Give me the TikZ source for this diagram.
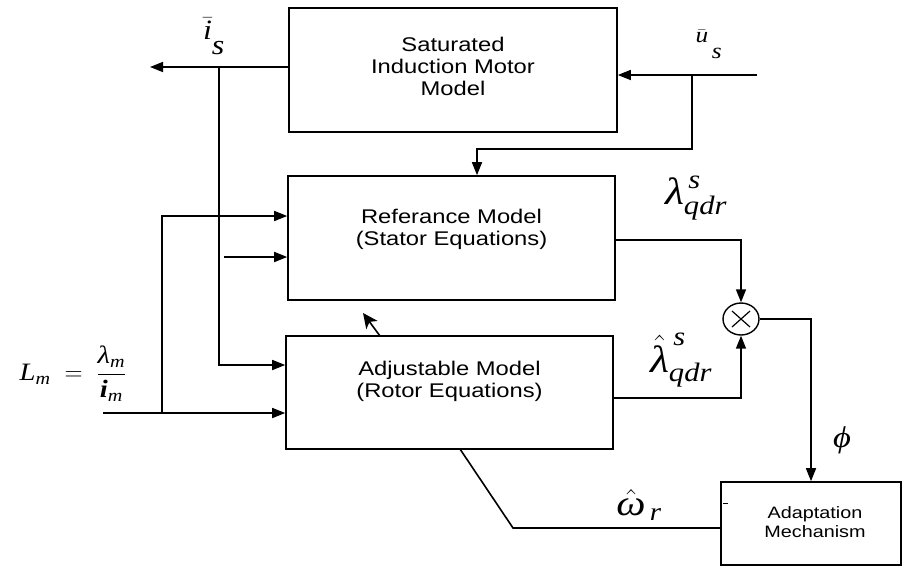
\documentclass[tikz,border=0pt]{standalone}
\usepackage{fix-cm}
\usepackage{amsmath}
\usepackage{fontspec}
\setmainfont{Liberation Sans}[FakeStretch=1.2]
\newfontfamily\eqfont{Liberation Serif}[FakeStretch=1.15]
\newcommand{\eqv}[1]{\text{\eqfont\itshape #1}}
\usetikzlibrary{arrows.meta,shapes.geometric}

\tikzset{
  block/.style={draw, rectangle, line width=1.6pt, inner sep=0pt},
  wire/.style={line width=1.6pt},
  sig/.style={wire, -{Triangle[length=13pt,width=10pt]}},
  boxtxt/.style={align=center, font=\fontsize{19.8}{22}\selectfont},
  eqlbl/.style={inner sep=0pt, font=\fontsize{26}{30}\selectfont},
}

\begin{document}
\begin{tikzpicture}[x=1pt,y=-1pt]
\useasboundingbox (0,0) rectangle (902,568);
% blocks
\node[block, minimum width=328pt, minimum height=124pt] (sat) at (453,70) {};
\node[block, minimum width=327pt, minimum height=124pt] (ref) at (451.5,238) {};
\node[block, minimum width=327pt, minimum height=113pt] (adj) at (449.5,392.5) {};
\node[block, minimum width=180pt, minimum height=83pt] (adapt) at (811,523.5) {};
\node[draw, ellipse, line width=1.4pt, minimum width=36pt, minimum height=32pt, inner sep=0pt] (mul) at (741,319) {};
\draw[line width=1.2pt] ([shift={(-9,-8)}]mul.center) -- ([shift={(9,8)}]mul.center);
\draw[line width=1.2pt] ([shift={(-9,8)}]mul.center) -- ([shift={(9,-8)}]mul.center);
\node[boxtxt] (sattxt) at (453,66.5) {Saturated\\Induction Motor\\Model};
\node[boxtxt] (reftxt) at (451.5,229) {Referance Model\\(Stator Equations)};
\node[boxtxt] (adjtxt) at (449.5,381) {Adjustable Model\\(Rotor Equations)};
\node[align=center, font=\fontsize{16.5}{19}\selectfont] (adatxt) at (815,522.5) {Adaptation\\Mechanism};
\draw[line width=1pt] ([shift={(3,-20)}]adapt.west) -- ++(5,0);

% branch points and corners
\coordinate (isout) at (150,67);
\coordinate (isb) at (219,67);
\coordinate (isdn) at (219,365);
\coordinate (usin) at (757,75);
\coordinate (usb) at (692,75);
\coordinate (uscor) at (477,149);
\coordinate (lmin) at (103,413);
\coordinate (lmb) at (162,413);
\coordinate (lmtop) at (162,216);
\coordinate (fbin) at (224,257);
\coordinate (lam) at (742,240);
\coordinate (lamh) at (741,398);
\coordinate (omb) at (513,528);
\coordinate (omtop) at (460,449);
\coordinate (dg1) at (380,336);
\coordinate (dg2) at (363,313);

% signals
\draw[sig] (sat.west |- isout) -- (isout);
\draw[sig] (isb) -- (isdn) -- (isdn -| adj.west);
\draw[sig] (usin) -- (usin -| sat.east);
\draw[sig] (usb) |- (uscor) -- (uscor |- ref.north);
\draw[sig] (lmin) -- (lmin -| adj.west);
\draw[sig] (lmb) -- (lmtop) -- (lmtop -| ref.west);
\draw[sig] (fbin) -- (fbin -| ref.west);
\draw[wire, -{Stealth[length=15pt,width=14pt,inset=4pt]}] (dg1) -- (dg2);
\draw[sig] (lam -| ref.east) -| (mul.north);
\draw[sig] (lamh -| adj.east) -| (mul.south);
\draw[sig] (mul.east) -| (adapt.north);
\draw[wire] (adapt.west |- omb) -- (omb) -- (omtop);

% labels
\node[eqlbl, font=\fontsize{28}{32}\selectfont] (lblis) at (214,36) {$\bar{\eqv{i}}_{\raisebox{-10pt}{\eqv{s}}}$};
\node[eqlbl, font=\fontsize{22}{26}\selectfont] (lblus) at (709,44) {$\bar{\eqv{u}}_{\raisebox{-12pt}{\,\eqv{s}}}$};
\node[eqlbl, font=\fontsize{38}{42}\selectfont] (lbllam) at (696,198) {$\eqv{λ}^{\,\eqv{s}}_{\eqv{qdr}}$};
\node[eqlbl, font=\fontsize{38}{42}\selectfont] (lbllamh) at (681,360) {$\hat{\eqv{λ}}^{\,\eqv{s}}_{\eqv{qdr}}$};
\node[eqlbl, font=\fontsize{30}{34}\selectfont] (lblphi) at (842,440) {\eqv{ϕ}};
\node[eqlbl, font=\fontsize{36}{40}\selectfont] (lblom) at (639,505) {$\hat{\eqv{ω}}_{\,\eqv{r}}$};
\node[eqlbl, font=\fontsize{25}{29}\selectfont] (lbllm) at (73,374) {$\eqv{L}_{\eqv{m}} \;=\; \dfrac{\eqv{λ}_{\eqv{m}}}{\eqv{\bfseries i}_{\eqv{m}}}$};
\end{tikzpicture}
\end{document}
